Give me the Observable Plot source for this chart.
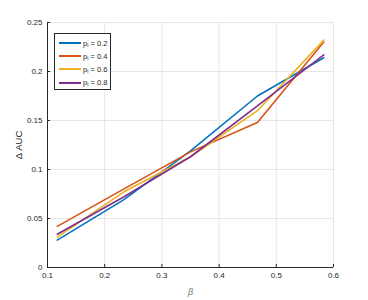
<!DOCTYPE html>
<html>
<head>
<meta charset="utf-8">
<script src="https://cdn.jsdelivr.net/npm/d3@7"></script>
<script src="https://cdn.jsdelivr.net/npm/@observablehq/plot@0.6"></script>
<style>
  body { margin: 0; background: #fff; }
  #wrap { position: relative; width: 368px; height: 300px; font-family: "Liberation Sans", Arial, sans-serif; }
  #wrap svg { position: absolute; left: 0; top: 0; }
  g[aria-label="x-axis label"] text { font-style: italic; fill: #808080; font-size: 9px; }
  g[aria-label="y-axis label"] text { font-size: 9.5px; fill: #262626; }
  #legend { position: absolute; left: 54px; top: 33px; width: 57px; height: 57px; border: 1px solid #262626; background: #fff; box-sizing: border-box; }
  .item { position: absolute; left: 4px; height: 10px; display: flex; align-items: center; font-size: 7.5px; color: #262626; }
  .sw { width: 22px; height: 2px; margin-right: 2px; }
  sub { font-size: 5.5px; vertical-align: -1px; }
</style>
</head>
<body>
<div id="wrap"><div id="legend"></div></div>
<script>
const xValues = [0.117, 0.233, 0.35, 0.467, 0.583];
const p02 = [0.028, 0.069, 0.119, 0.175, 0.214];
const p04 = [0.042, 0.080, 0.118, 0.148, 0.230];
const p06 = [0.031, 0.077, 0.113, 0.160, 0.232];
const p08 = [0.034, 0.072, 0.113, 0.165, 0.217];
const seriesNames = ["0.2", "0.4", "0.6", "0.8"];
const seriesValues = [p02, p04, p06, p08];
const colors = ["#0072BD", "#D95319", "#EDB120", "#7E2F8E"];
const xTicks = [0.1, 0.2, 0.3, 0.4, 0.5, 0.6];
const yTicks = [0, 0.05, 0.1, 0.15, 0.2, 0.25];

const data = [];
seriesNames.forEach((s, i) => xValues.forEach((x, j) => data.push({series: s, x, y: seriesValues[i][j]})));

const chart = Plot.plot({
  width: 368,
  height: 300,
  marginLeft: 47,
  marginRight: 35,
  marginTop: 22,
  marginBottom: 33,
  style: {fontFamily: "Liberation Sans, Arial, sans-serif", fontSize: "8px", color: "#262626", background: "transparent"},
  x: {domain: [0.1, 0.6]},
  y: {domain: [0, 0.25]},
  color: {domain: seriesNames, range: colors},
  marks: [
    Plot.gridX(xTicks, {stroke: "#e6e6e6", strokeOpacity: 1}),
    Plot.gridY(yTicks, {stroke: "#e6e6e6", strokeOpacity: 1}),
    Plot.axisX(xTicks, {tickSize: 0, tickPadding: 5, tickFormat: d => String(d), label: "β", labelAnchor: "center", labelArrow: "none", labelOffset: 27}),
    Plot.axisY(yTicks, {tickSize: 0, tickPadding: 5, tickFormat: d => String(d), label: "Δ AUC", labelAnchor: "center", labelArrow: "none", labelOffset: 32}),
    Plot.axisX(xTicks, {tickSize: 3, dy: -3, tickFormat: () => "", label: null, stroke: "#262626"}),
    Plot.axisY(yTicks, {tickSize: 3, dx: 3, tickFormat: () => "", label: null, stroke: "#262626"}),
    Plot.ruleX([xTicks[0]], {stroke: "#262626"}),
    Plot.ruleY([yTicks[0]], {stroke: "#262626"}),
    Plot.line(data, {x: "x", y: "y", z: "series", stroke: "series", strokeWidth: 1.6})
  ]
});
document.getElementById("wrap").prepend(chart);

const legend = document.getElementById("legend");
seriesNames.forEach((s, i) => {
  const it = document.createElement("div");
  it.className = "item";
  it.style.top = (4 + i * 13.2) + "px";
  it.innerHTML = `<span class="sw" style="background:${colors[i]}"></span><span>p<sub>i</sub> = ${s}</span>`;
  legend.appendChild(it);
});
</script>
</body>
</html>
